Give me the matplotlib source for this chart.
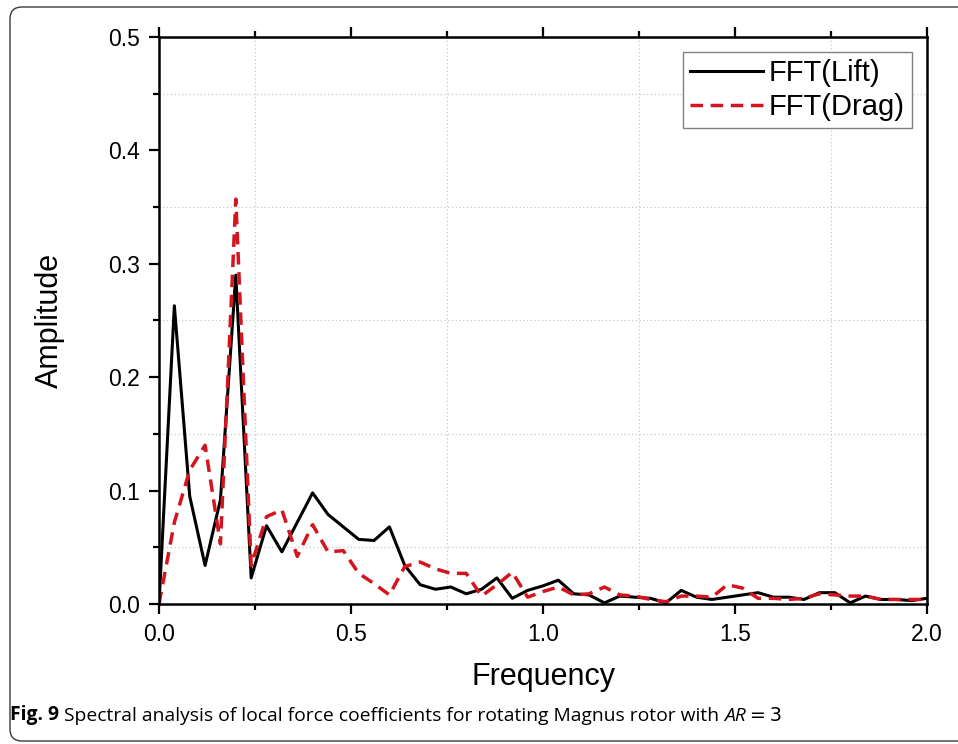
import matplotlib
matplotlib.use("Agg")
import matplotlib.pyplot as plt
from matplotlib.patches import FancyBboxPatch
from matplotlib.ticker import MultipleLocator

# FFT frequency bins
frequency = [0.00, 0.04, 0.08, 0.12, 0.16, 0.20, 0.24, 0.28, 0.32, 0.36,
             0.40, 0.44, 0.48, 0.52, 0.56, 0.60, 0.64, 0.68, 0.72, 0.76,
             0.80, 0.84, 0.88, 0.92, 0.96, 1.00, 1.04, 1.08, 1.12, 1.16,
             1.20, 1.24, 1.28, 1.32, 1.36, 1.40, 1.44, 1.48, 1.52, 1.56,
             1.60, 1.64, 1.68, 1.72, 1.76, 1.80, 1.84, 1.88, 1.92, 1.96,
             2.00]

# spectral amplitude of the lift coefficient
fft_lift = [0.000, 0.263, 0.095, 0.034, 0.092, 0.290, 0.023, 0.069, 0.046, 0.072,
            0.098, 0.079, 0.068, 0.057, 0.056, 0.068, 0.034, 0.017, 0.013, 0.015,
            0.009, 0.013, 0.023, 0.005, 0.012, 0.016, 0.021, 0.009, 0.008, 0.001,
            0.007, 0.006, 0.005, 0.001, 0.012, 0.006, 0.004, 0.006, 0.008, 0.010,
            0.006, 0.006, 0.004, 0.010, 0.010, 0.001, 0.007, 0.004, 0.004, 0.003,
            0.005]

# spectral amplitude of the drag coefficient
fft_drag = [0.000, 0.072, 0.118, 0.140, 0.053, 0.357, 0.034, 0.077, 0.083, 0.042,
            0.070, 0.046, 0.047, 0.027, 0.018, 0.008, 0.033, 0.037, 0.031, 0.027,
            0.027, 0.007, 0.017, 0.028, 0.006, 0.011, 0.015, 0.008, 0.009, 0.015,
            0.008, 0.007, 0.004, 0.002, 0.007, 0.007, 0.006, 0.017, 0.014, 0.005,
            0.005, 0.004, 0.005, 0.009, 0.008, 0.007, 0.007, 0.004, 0.004, 0.004,
            0.004]

W, H = 958, 744
LIFT_COLOR = "black"
DRAG_COLOR = "#d4141e"
CAP_SIZE = 13.9

plt.rcParams["font.family"] = ["Liberation Sans", "DejaVu Sans"]

fig = plt.figure(figsize=(W / 100, H / 100), dpi=100)
ax = fig.add_axes([159 / W, 1 - 604 / H, 768 / W, 567 / H])

ax.plot(frequency, fft_lift, color=LIFT_COLOR, lw=2.2, label="FFT(Lift)")
ax.plot(frequency, fft_drag, color=DRAG_COLOR, lw=2.5, dashes=(3.6, 2.2),
        label="FFT(Drag)")

ax.set_xlim(0, 2.0)
ax.set_ylim(0, 0.5)
ax.xaxis.set_major_locator(MultipleLocator(0.5))
ax.xaxis.set_minor_locator(MultipleLocator(0.25))
ax.yaxis.set_major_locator(MultipleLocator(0.1))
ax.yaxis.set_minor_locator(MultipleLocator(0.05))
ax.xaxis.set_major_formatter(lambda v, pos: f"{v:.1f}")
ax.yaxis.set_major_formatter(lambda v, pos: f"{v:.1f}")

# dotted grid on the minor ticks only
ax.grid(which="minor", color="#c8c8c8", lw=0.9, ls=(0, (1, 2)))
ax.set_axisbelow(True)

for side in ["left", "right", "top", "bottom"]:
    ax.spines[side].set_linewidth(1.8)
ax.tick_params(which="both", direction="out", top=True, right=False,
               width=1.6, labelsize=16.5, pad=6)
ax.tick_params(which="major", length=7.5)
ax.tick_params(which="minor", length=4.5)

ax.set_xlabel("Frequency", fontsize=22, labelpad=12)
ax.set_ylabel("Amplitude", fontsize=22, labelpad=31)

leg = ax.legend(loc="upper right", fontsize=21, frameon=True, fancybox=False,
                edgecolor="#808080", framealpha=1, handlelength=2.5,
                handletextpad=0.2, borderpad=0.25, labelspacing=0.2,
                borderaxespad=0.5)
leg.get_frame().set_linewidth(1.0)

# rounded frame around figure and caption
frame = FancyBboxPatch((10, 3), 980, 734, boxstyle="round,pad=0,rounding_size=12",
                       transform=None, fill=False, edgecolor="#3a3a3a", lw=1.0)
fig.patches.append(frame)

# caption: bold figure number, plain text, italic AR
cap_font = ["Open Sans", "DejaVu Sans"]
num = fig.text(10 / W, 24 / H, "Fig. 9", fontsize=CAP_SIZE, fontweight="bold",
               family=cap_font, va="baseline")
body = ax.annotate(" Spectral analysis of local force coefficients for rotating Magnus rotor with ",
                   xy=(1, 0), xycoords=num, va="bottom", fontsize=CAP_SIZE,
                   family=cap_font, annotation_clip=False)
italic = ax.annotate("AR", xy=(1, 0), xycoords=body, va="bottom", fontsize=CAP_SIZE,
                     family=cap_font, style="italic", annotation_clip=False)
ax.annotate("\u2009=\u20093", xy=(1, 0), xycoords=italic, va="bottom",
            fontsize=CAP_SIZE, family=["DejaVu Sans"], annotation_clip=False)

fig.savefig("out.png", dpi=100)
